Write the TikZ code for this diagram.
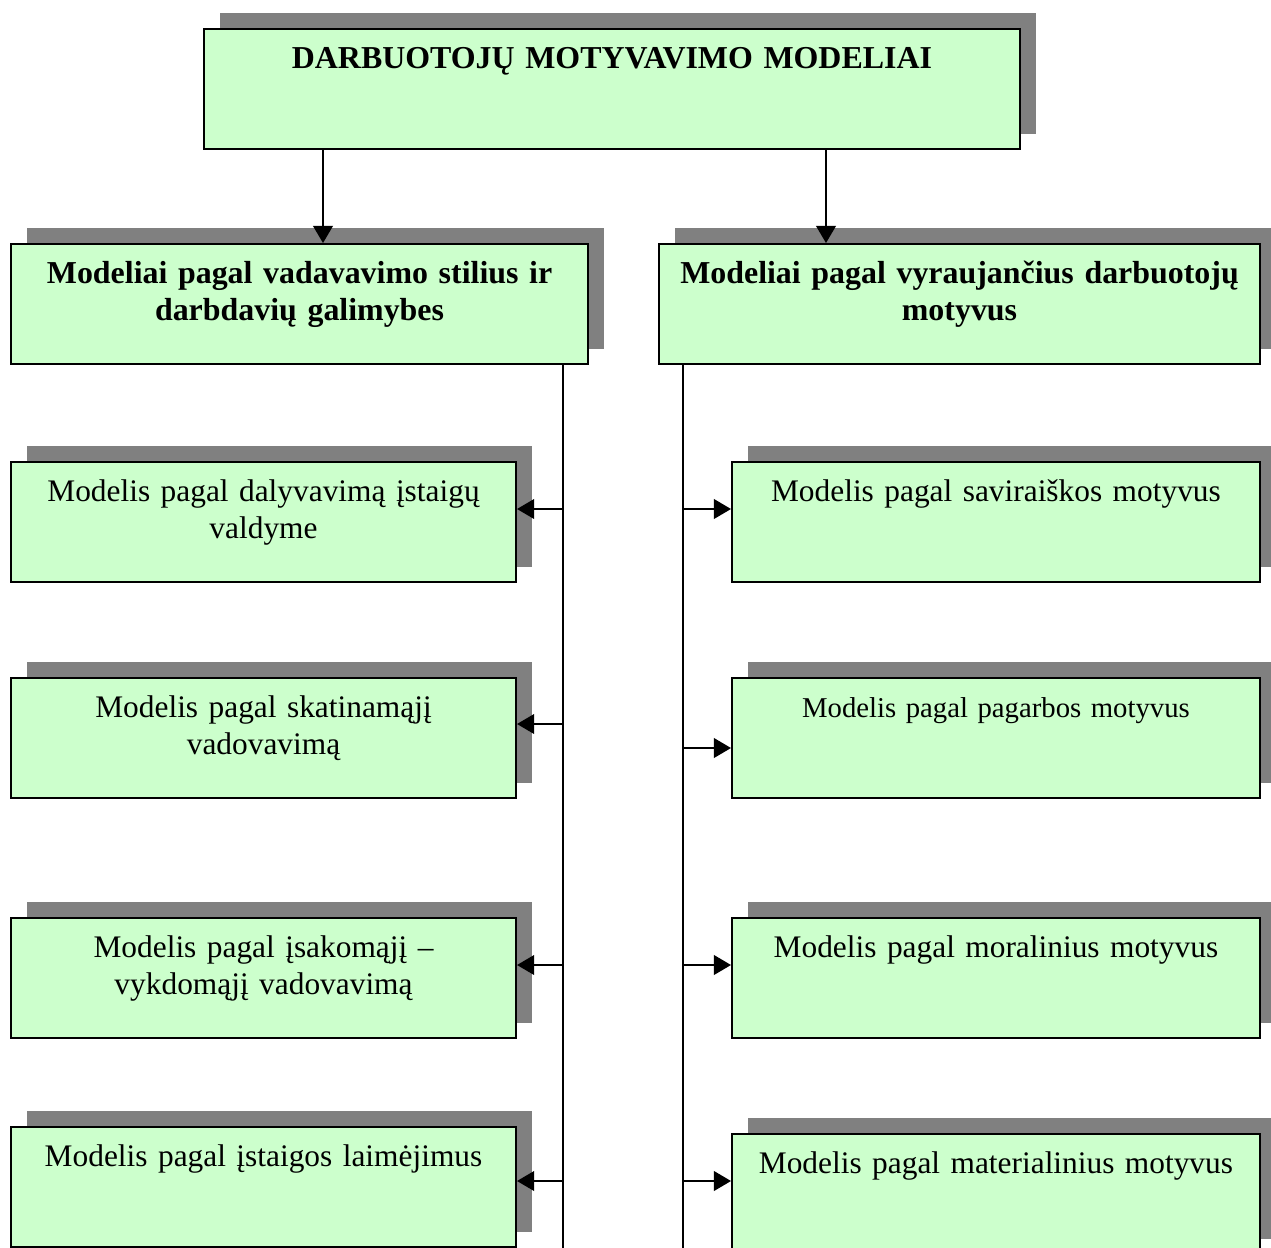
\documentclass[tikz,border=0pt]{standalone}
\usepackage{fontspec}
\setmainfont{Liberation Serif}
\usetikzlibrary{arrows.meta,shadows}
\definecolor{boxgreen}{HTML}{CCFFCC}
\definecolor{shade}{HTML}{808080}
\tikzset{
  model/.style={draw, line width=0.75pt, fill=boxgreen, anchor=north west,
    inner xsep=3.8pt, inner ysep=0pt, align=center, text width=#1,
    text height=15pt, text depth=30.3pt,
    font=\fontsize{11.8pt}{13.8pt}\selectfont,
    drop shadow={shadow xshift=6pt, shadow yshift=6pt, fill=shade, opacity=1}},
  head/.style={model=#1, font=\fontsize{12pt}{13.8pt}\selectfont\bfseries},
  link/.style={line width=0.55pt},
  arr/.style={link, -{Triangle[length=6.4pt,width=7.4pt]}}
}
\begin{document}
\begin{tikzpicture}[x=0.376pt, y=-0.376pt]
	\useasboundingbox (0,0) rectangle (1271,1247);
	%x of the two trunk lines
	\pgfmathsetmacro{\lx}{563}
	\pgfmathsetmacro{\rx}{683}

	%Title and the two groups
	\node[head=299.2pt] (title) at (203,28) {DARBUOTOJŲ MOTYVAVIMO MODELIAI};
	\node[head=209.4pt] (vad) at (10,243) {Modeliai pagal vadavavimo stilius ir\\ darbdavių galimybes};
	\node[head=218.4pt] (mot) at (658,243) {Modeliai pagal vyraujančius darbuotojų\\ motyvus};

	%Left column
	\node[model=182.3pt] (l1) at (10,461) {Modelis pagal dalyvavimą įstaigų\\ valdyme};
	\node[model=182.3pt] (l2) at (10,677) {Modelis pagal skatinamąjį\\ vadovavimą};
	\node[model=182.3pt] (l3) at (10,917) {Modelis pagal įsakomąjį –\\ vykdomąjį vadovavimą};
	\node[model=182.3pt] (l4) at (10,1126) {Modelis pagal įstaigos laimėjimus};

	%Right column
	\node[model=190.9pt] (r1) at (731,461) {Modelis pagal saviraiškos motyvus};
	\node[model=190.9pt, font=\fontsize{10.8pt}{13pt}\selectfont] (r2) at (731,677) {Modelis pagal pagarbos motyvus};
	\node[model=190.9pt] (r3) at (731,917) {Modelis pagal moralinius motyvus};
	\node[model=190.9pt] (r4) at (731,1133) {Modelis pagal materialinius motyvus};

	%Arrows from the title
	\coordinate (ja) at (323,0);
	\coordinate (jb) at (826,0);
	\draw[arr] (title.south -| ja) -- (vad.north -| ja);
	\draw[arr] (title.south -| jb) -- (mot.north -| jb);

	%Trunks and branches
	\coordinate (lt) at (\lx,1260);
	\coordinate (rt) at (\rx,1260);
	\draw[link] (vad.south -| lt) -- (lt);
	\draw[link] (mot.south -| rt) -- (rt);
	\foreach \n/\y in {l1/509,l2/724,l3/965,l4/1181}{
		\coordinate (j\n) at (\lx,\y);
		\draw[arr] (j\n) -- (j\n -| \n.east);
	}
	\foreach \n/\y in {r1/509,r2/748,r3/965,r4/1181}{
		\coordinate (j\n) at (\rx,\y);
		\draw[arr] (j\n) -- (j\n -| \n.west);
	}
\end{tikzpicture}
\end{document}
